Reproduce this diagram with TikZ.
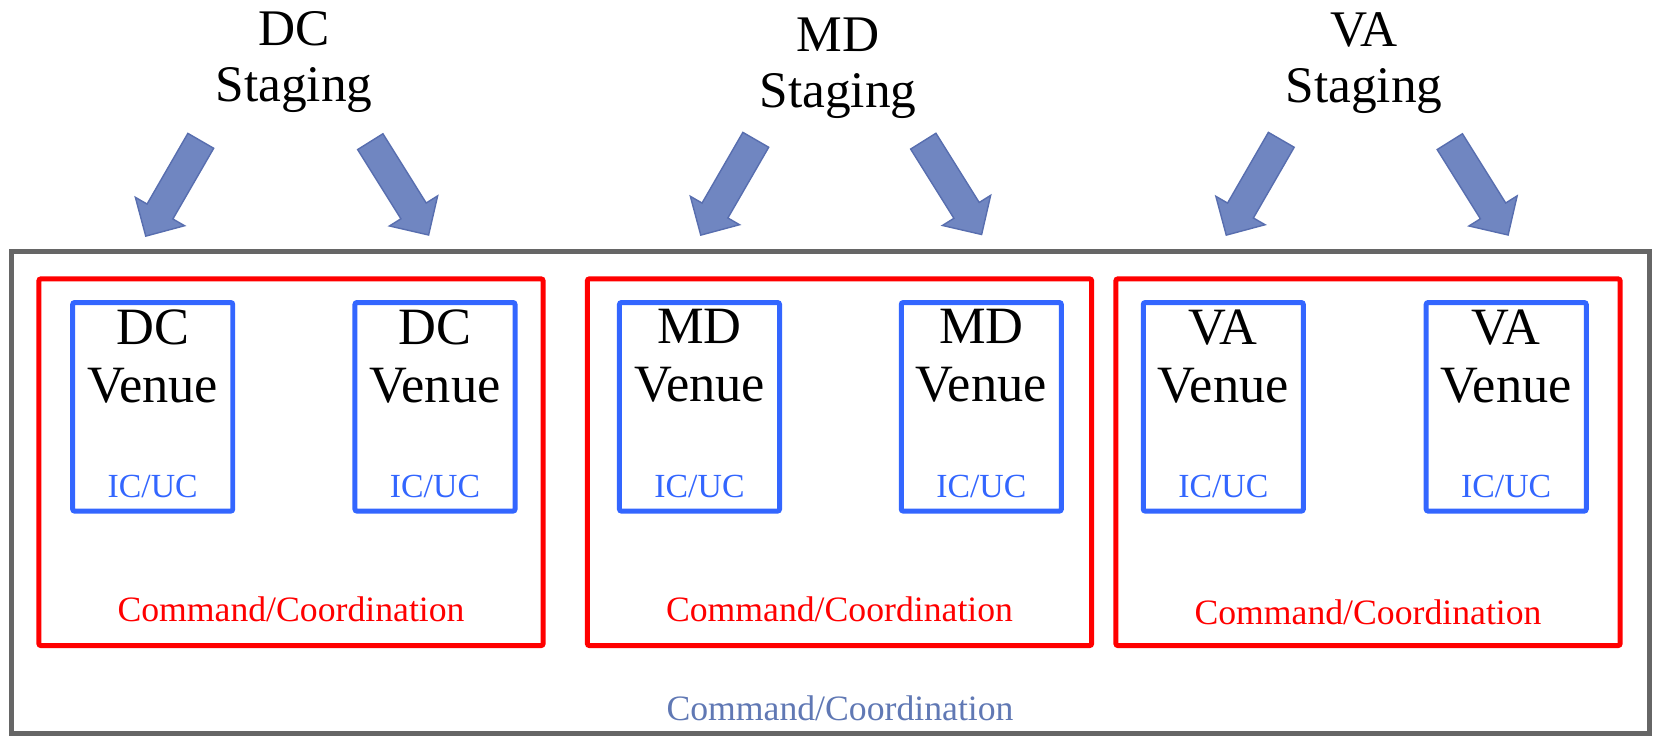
\documentclass[tikz,border=0pt]{standalone}
\usepackage{fontspec}
\setmainfont{Liberation Serif}
\usepackage{tikz}
\usetikzlibrary{positioning,shapes.arrows}

\definecolor{venueblue}{RGB}{51,102,255}
\definecolor{cmdred}{RGB}{255,0,0}
\definecolor{outergray}{RGB}{102,102,102}
\definecolor{outertext}{RGB}{96,120,180}
\definecolor{arrowfill}{RGB}{112,134,193}
\definecolor{arrowedge}{RGB}{88,110,175}

\tikzset{
  outerbox/.style={draw=outergray,line width=1.3pt,minimum width=16.37cm,minimum height=4.82cm,inner sep=0pt},
  cmdbox/.style={draw=cmdred,line width=1.42pt,rounded corners=0.6pt,minimum width=5.04cm,minimum height=3.665cm,inner sep=0pt},
  venuebox/.style={draw=venueblue,line width=1.42pt,rounded corners=0.6pt,minimum width=1.6cm,minimum height=2.085cm,inner sep=0pt},
  staginglabel/.style={align=center,inner sep=0pt,font=\fontsize{14.6}{16}\selectfont},
  venuelabel/.style={align=center,inner sep=0pt,font=\fontsize{14.9}{16.5}\selectfont},
  iclabel/.style={inner sep=0pt,text=venueblue,font=\fontsize{9.6}{11}\selectfont},
  cmdlabel/.style={inner sep=0pt,text=cmdred,font=\fontsize{10.15}{12}\selectfont},
  outerlabel/.style={inner sep=0pt,text=outertext,font=\fontsize{10.15}{12}\selectfont},
  blockarrow/.style={single arrow,fill=arrowfill,draw=arrowedge,line width=0.4pt,inner xsep=0pt,inner ysep=0.142cm,
    minimum height=1.1cm,single arrow head extend=0.135cm}
}

\begin{document}
\begin{tikzpicture}[x=0.01cm,y=-0.01cm]
\useasboundingbox (0,0) rectangle (1654,735);
%\draw[very thin,color=gray,step=50] (0,0) grid (1654,735);
% staging areas
\node[staginglabel] (dcstage) at (294,62) {DC\\Staging};
\node[staginglabel] (mdstage) at (838,68) {MD\\Staging};
\node[staginglabel] (vastage) at (1364,63) {VA\\Staging};
\node[blockarrow,rotate=240] (dcarrL) at (177,182) {};
\node[blockarrow,rotate=-58] (dcarrR) at (395.5,182) {};
\node[blockarrow,rotate=240] (mdarrL) at (732,181) {};
\node[blockarrow,rotate=-58] (mdarrR) at (948.5,181.5) {};
\node[blockarrow,rotate=240] (vaarrL) at (1257.5,181) {};
\node[blockarrow,rotate=-58] (vaarrR) at (1475,182) {};
% outer box
\node[outerbox] (outer) at (830.5,492.6) {};
\node[outerlabel,anchor=base] (outertxt) at (840,720) {Command/Coordination};
% state boxes
\node[cmdbox] (dccmd) at (291,462.2) {};
\node[cmdbox] (mdcmd) at (839.5,462.2) {};
\node[cmdbox] (vacmd) at (1368,462.2) {};
\node[cmdlabel,above=7.2pt of dccmd.south] (dccmdtxt) {Command/Coordination};
\node[cmdlabel,above=7.2pt of mdcmd.south] (mdcmdtxt) {Command/Coordination};
\node[cmdlabel,above=6.4pt of vacmd.south] (vacmdtxt) {Command/Coordination};
% venues
\node[venuebox] (dcv1) at (152.7,406.8) {};
\node[venuebox] (dcv2) at (435,406.8) {};
\node[venuebox] (mdv1) at (699.5,406.8) {};
\node[venuebox] (mdv2) at (981.3,406.8) {};
\node[venuebox] (vav1) at (1223.3,406.8) {};
\node[venuebox] (vav2) at (1506.2,406.8) {};
\node[venuelabel,below=2.5pt of dcv1.north] {DC\\Venue};
\node[venuelabel,below=2.5pt of dcv2.north] {DC\\Venue};
\node[venuelabel,below=2.5pt of mdv1.north] {MD\\Venue};
\node[venuelabel,below=2.5pt of mdv2.north] {MD\\Venue};
\node[venuelabel,below=2.5pt of vav1.north] {VA\\Venue};
\node[venuelabel,below=2.5pt of vav2.north] {VA\\Venue};
\node[iclabel,above=4.3pt of dcv1.south] {IC/UC};
\node[iclabel,above=4.3pt of dcv2.south] {IC/UC};
\node[iclabel,above=4.3pt of mdv1.south] {IC/UC};
\node[iclabel,above=4.3pt of mdv2.south] {IC/UC};
\node[iclabel,above=4.3pt of vav1.south] {IC/UC};
\node[iclabel,above=4.3pt of vav2.south] {IC/UC};
\end{tikzpicture}
\end{document}
